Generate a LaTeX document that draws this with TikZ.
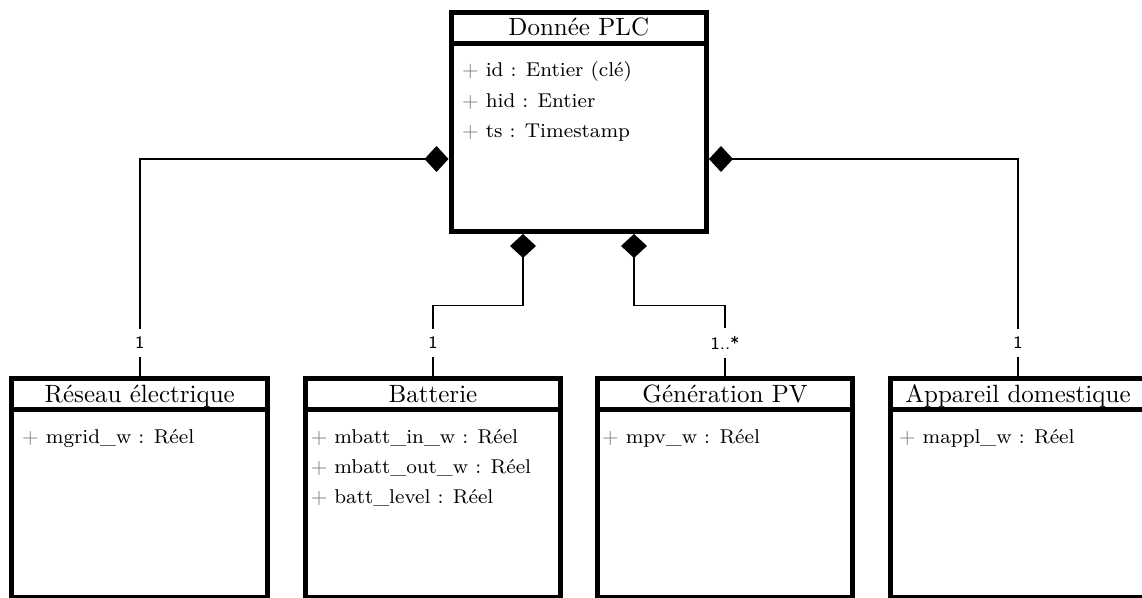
\documentclass[tikz,border=0pt]{standalone}
\usetikzlibrary{arrows.meta,calc}
\tikzset{
  classbox/.style={draw, line width=2pt, minimum width=102.2pt, minimum height=87.6pt, inner sep=0pt},
  divider/.style={line width=2pt},
  titletext/.style={anchor=base, inner sep=0pt, font=\normalsize},
  attrtext/.style={anchor=base west, inner sep=0pt, font=\footnotesize},
  compo/.style={line width=0.6pt, arrows={{Diamond[length=9.6pt,width=10.4pt]}-}},
  mult/.style={fill=white, inner xsep=1pt, inner ysep=3.2pt, font=\sffamily\scriptsize}
}
\newcommand{\hdr}[2]{%
  \draw[divider] ($(#1.center)+(-127.75,-78.6)$) -- ($(#1.center)+(127.75,-78.6)$);
  \node[titletext] (#1-t) at ($(#1.center)+(0,-86)$) {#2};}
\newcommand{\attr}[4]{%
  \node[attrtext] (#1-a#3) at ($(#1.center)+(-127.75+#2,-45+30.3*#3)$) {\textcolor{gray}{$+$} #4};}
\begin{document}
\begin{tikzpicture}[x=0.4pt,y=-0.4pt]
\useasboundingbox (0,0) rectangle (1142,598);
\coordinate (yL) at (0,159);
\coordinate (yM) at (0,343);
\coordinate (dA) at (523,305.7);
\coordinate (dB) at (634,305.7);

\node[classbox] (plc) at (578.75,122) {};
\node[classbox] (grid) at (139.75,488.25) {};
\node[classbox] (batt) at (433,488.25) {};
\node[classbox] (pv) at (725,488.25) {};
\node[classbox] (appl) at (1018,488.25) {};

\hdr{plc}{Donnée PLC}
\hdr{grid}{Réseau électrique}
\hdr{batt}{Batterie}
\hdr{pv}{Génération PV}
\hdr{appl}{Appareil domestique}

\attr{plc}{10.7}{0}{id : Entier (clé)}
\attr{plc}{10.7}{1}{hid : Entier}
\attr{plc}{10.7}{2}{ts : Timestamp}
\attr{grid}{9.7}{0}{mgrid\_w : Réel}
\attr{batt}{5}{0}{mbatt\_in\_w : Réel}
\attr{batt}{5}{1}{mbatt\_out\_w : Réel}
\attr{batt}{5}{2}{batt\_level : Réel}
\attr{pv}{4.4}{0}{mpv\_w : Réel}
\attr{appl}{8.3}{0}{mappl\_w : Réel}

\draw[compo] (plc.west |- yL) -| (grid.north);
\draw[compo] (plc.east |- yL) -| (appl.north);
\draw[compo] (plc.south -| dA) -- (dA) -| (batt.north);
\draw[compo] (plc.south -| dB) -- (dB) -| (pv.north);

\node[mult] (m1) at (grid.north |- yM) {1};
\node[mult] (m2) at (batt.north |- yM) {1};
\node[mult] (m3) at (pv.north |- yM) {1..*};
\node[mult] (m4) at (appl.north |- yM) {1};
\end{tikzpicture}
\end{document}
